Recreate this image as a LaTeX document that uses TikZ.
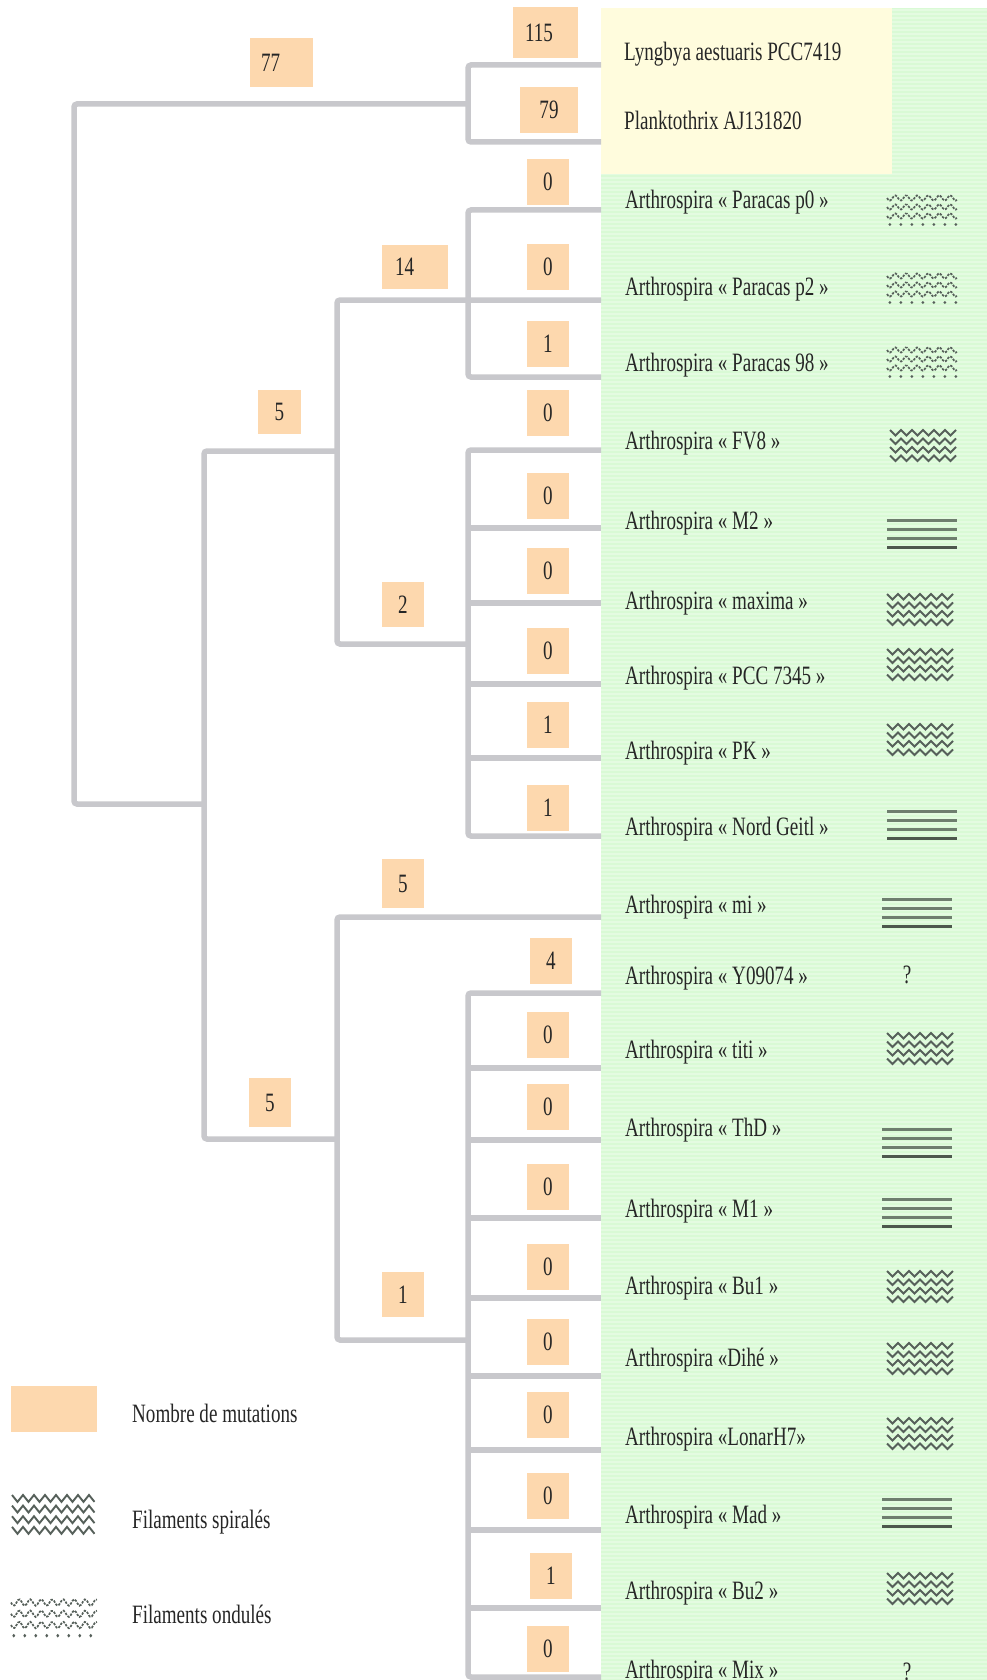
\documentclass[tikz,border=0pt]{standalone}
\usepackage{fontspec}
\setmainfont{Liberation Serif}
\newfontfamily\condfont[FakeStretch=0.72]{Liberation Serif}
\definecolor{greenbg}{HTML}{D9FAD5}
\definecolor{yellowbg}{HTML}{FFFCDD}
\definecolor{peach}{HTML}{FDD8AE}
\definecolor{branchgray}{HTML}{C8C8CC}
\definecolor{symgray}{HTML}{56605A}
\definecolor{linegreen}{HTML}{6E7E6E}
\definecolor{txt}{HTML}{262626}
\tikzset{
  branch/.style={draw=branchgray, line width=5.5pt, rounded corners=3pt},
  lbl/.style={font=\condfont\fontsize{26.5}{28}\selectfont, text=txt, inner sep=0pt},
  mutbox/.style={lbl, fill=peach, minimum width=42pt, minimum height=46pt},
  leaf/.style={lbl, anchor=base west},
  pics/spiral/.style={code={
    \foreach \r in {0,8.5,17,25.5}{
      \draw[symgray, line width=1.9pt] (0,\r) \foreach \k in {1,...,#1}{ -- ({\k*5.5},{\r+5.5*mod(\k,2)}) };
    }
  }},
  pics/undul/.style={code={
    \foreach \r in {2,11,20}{
      \draw[symgray, line width=1.7pt, dash pattern=on 2.4pt off 1.3pt]
        plot[smooth, domain=0:#1, samples=50] (\x,{\r+2.6*sin(32.727*\x)});
    }
    \foreach \xx in {2.75,13.75,...,#1}{ \fill[symgray] (\xx,28.5) circle (1.5pt); }
  }},
  pics/flines/.style={code={
    \foreach \r in {0,9,18}{ \draw[linegreen, line width=3pt] (0,\r) -- (#1,\r); }
    \draw[linegreen!70!black, line width=3pt] (0,27) -- (#1,27);
  }}
}
\begin{document}
\begin{tikzpicture}[x=1pt,y=-1pt]
\useasboundingbox (0,0) rectangle (987,1680);
\fill[white] (0,0) rectangle (987,1680);
% backgrounds
\fill[greenbg] (601,8) rectangle (987,1680);
\foreach \s in {10,14,...,1678}{ \draw[white, opacity=0.3, line width=1.2pt] (601,\s) -- (987,\s); }
\fill[yellowbg] (601,8) rectangle (892,174);

% leaf end coordinates
\coordinate (Lly) at (601,65);
\coordinate (Lpl) at (601,142);
\coordinate (Lp0) at (601,210);
\coordinate (Lp2) at (601,300);
\coordinate (L98) at (601,377);
\coordinate (Lfv) at (601,450);
\coordinate (Lm2) at (601,528);
\coordinate (Lmax) at (601,603);
\coordinate (Lpcc) at (601,684);
\coordinate (Lpk) at (601,758);
\coordinate (Lno) at (601,836);
\coordinate (Lmi) at (601,917);
\coordinate (Ly09) at (601,993);
\coordinate (Lti) at (601,1068);
\coordinate (Lthd) at (601,1140);
\coordinate (Lm1) at (601,1218);
\coordinate (Lbu1) at (601,1298);
\coordinate (Ldi) at (601,1376);
\coordinate (Llo) at (601,1450);
\coordinate (Lmad) at (601,1530);
\coordinate (Lbu2) at (601,1608);
\coordinate (Lmix) at (601,1677);
% internal coordinates
\coordinate (cLy) at (468,104);
\coordinate (cLyB) at (468,142);
\coordinate (rootB) at (74,804);
\coordinate (nA) at (204,804);
\coordinate (nB) at (337,451);
\coordinate (nAbot) at (204,1139);
\coordinate (nC) at (337,1139);
\coordinate (nBbot) at (337,644);
\coordinate (nD) at (468,644);
\coordinate (cPbot) at (468,377);
\coordinate (cDbot) at (468,836);
\coordinate (nCbot) at (337,1340);
\coordinate (nE) at (468,1340);
\coordinate (cEbot) at (468,1677);

% tree
\draw[branch] (Lly) -| (cLyB) -- (Lpl);
\draw[branch] (cLy) -| (rootB) -- (nA);
\draw[branch] (nB) -| (nAbot) -- (nC);
\draw[branch] (Lp2) -| (nBbot) -- (nD);
\draw[branch] (Lp0) -| (cPbot) -- (L98);
\draw[branch] (Lfv) -| (cDbot) -- (Lno);
\foreach \l in {Lm2,Lmax,Lpcc,Lpk}{ \draw[branch] (\l -| cDbot) -- (\l); }
\draw[branch] (Lmi) -| (nCbot) -- (nE);
\draw[branch] (Ly09) -| (cEbot) -- (Lmix);
\foreach \l in {Lti,Lthd,Lm1,Lbu1,Ldi,Llo,Lmad,Lbu2}{ \draw[branch] (\l -| cEbot) -- (\l); }

% mutation boxes
\node[mutbox, minimum width=63pt, minimum height=49pt, text width=41pt, inner xsep=11pt, align=left] (b77) at (281.5,62.5) {77};
\node[mutbox, minimum width=65pt, minimum height=51pt, text width=41pt, inner xsep=12pt, align=left] (b115) at (545.5,32.5) {115};
\node[mutbox, minimum width=58pt] (b79) at (549,110) {79};
\node[mutbox, minimum width=66pt, minimum height=44pt, text width=40pt, inner xsep=13pt, align=left] (b14) at (415,267) {14};
\node[mutbox, minimum width=43pt, minimum height=44pt] (b5a) at (279.5,412) {5};
\node[mutbox, minimum height=45pt] (b2) at (403,604.5) {2};
\node[mutbox, minimum height=49pt] (b5b) at (403,883.5) {5};
\node[mutbox, minimum height=49pt] (b5c) at (270,1102.5) {5};
\node[mutbox, minimum height=45pt] (b1) at (403,1294.5) {1};
\node[mutbox] (m1) at (548,182) {0};
\node[mutbox] (m2) at (548,267) {0};
\node[mutbox] (m3) at (548,343.5) {1};
\node[mutbox] (m4) at (548,412.5) {0};
\node[mutbox] (m5) at (548,496) {0};
\node[mutbox] (m6) at (548,571) {0};
\node[mutbox] (m7) at (548,651) {0};
\node[mutbox] (m8) at (548,724.5) {1};
\node[mutbox] (m9) at (548,808) {1};
\node[mutbox] (m10) at (551,960.5) {4};
\node[mutbox] (m11) at (548,1035) {0};
\node[mutbox] (m12) at (548,1107) {0};
\node[mutbox] (m13) at (548,1186.5) {0};
\node[mutbox] (m14) at (548,1266.5) {0};
\node[mutbox] (m15) at (548,1342) {0};
\node[mutbox] (m16) at (548,1414.5) {0};
\node[mutbox] (m17) at (548,1495.5) {0};
\node[mutbox] (m18) at (551,1575.5) {1};
\node[mutbox] (m19) at (548,1649) {0};

% leaf names
\node[leaf] (t1) at (624,61) {Lyngbya aestuaris PCC7419};
\node[leaf] (t2) at (624,130) {Planktothrix AJ131820};
\node[leaf] (t3) at (625,209) {Arthrospira « Paracas p0 »};
\node[leaf] (t4) at (625,295) {Arthrospira « Paracas p2 »};
\node[leaf] (t5) at (625,371) {Arthrospira « Paracas 98 »};
\node[leaf] (t6) at (625,449) {Arthrospira « FV8 »};
\node[leaf] (t7) at (625,529) {Arthrospira « M2 »};
\node[leaf] (t8) at (625,609) {Arthrospira « maxima »};
\node[leaf] (t9) at (625,684) {Arthrospira « PCC 7345 »};
\node[leaf] (t10) at (625,759) {Arthrospira « PK »};
\node[leaf] (t11) at (625,835) {Arthrospira « Nord Geitl »};
\node[leaf] (t12) at (625,913) {Arthrospira « mi »};
\node[leaf] (t13) at (625,984) {Arthrospira « Y09074 »};
\node[leaf] (t14) at (625,1058) {Arthrospira « titi »};
\node[leaf] (t15) at (625,1136) {Arthrospira « ThD »};
\node[leaf] (t16) at (625,1217) {Arthrospira « M1 »};
\node[leaf] (t17) at (625,1294) {Arthrospira « Bu1 »};
\node[leaf] (t18) at (625,1366) {Arthrospira «Dihé »};
\node[leaf] (t19) at (625,1445) {Arthrospira «LonarH7»};
\node[leaf] (t20) at (625,1523) {Arthrospira « Mad »};
\node[leaf] (t21) at (625,1599) {Arthrospira « Bu2 »};
\node[leaf] (t22) at (625,1678) {Arthrospira « Mix »};

% symbols
\pic (s3) at (887,196) {undul=70};
\pic (s4) at (887,274) {undul=70};
\pic (s5) at (887,348) {undul=70};
\pic (s6) at (890,430) {spiral=12};
\pic (s7) at (887,520) {flines=70};
\pic (s8) at (887,594) {spiral=12};
\pic (s9) at (887,649) {spiral=12};
\pic (s10) at (887,724) {spiral=12};
\pic (s11) at (887,811) {flines=70};
\pic (s12) at (882,899) {flines=70};
\node[leaf, anchor=base] (q1) at (907,983) {?};
\pic (s14) at (887,1033) {spiral=12};
\pic (s15) at (882,1129) {flines=70};
\pic (s16) at (882,1199) {flines=70};
\pic (s17) at (887,1271) {spiral=12};
\pic (s18) at (887,1343) {spiral=12};
\pic (s19) at (887,1418) {spiral=12};
\pic (s20) at (882,1499) {flines=70};
\pic (s21) at (887,1573) {spiral=12};
\node[leaf, anchor=base] (q2) at (907,1680) {?};

% legend
\node[fill=peach, minimum width=86pt, minimum height=46pt, inner sep=0pt] (legbox) at (54,1409) {};
\node[leaf] (leg1) at (132,1422) {Nombre de mutations};
\pic[yscale=1.25] (legsp) at (12,1495) {spiral=15};
\node[leaf] (leg2) at (132,1528) {Filaments spiralés};
\pic[yscale=1.25] (legun) at (11,1600) {undul=86};
\node[leaf] (leg3) at (132,1623) {Filaments ondulés};
\end{tikzpicture}
\end{document}
